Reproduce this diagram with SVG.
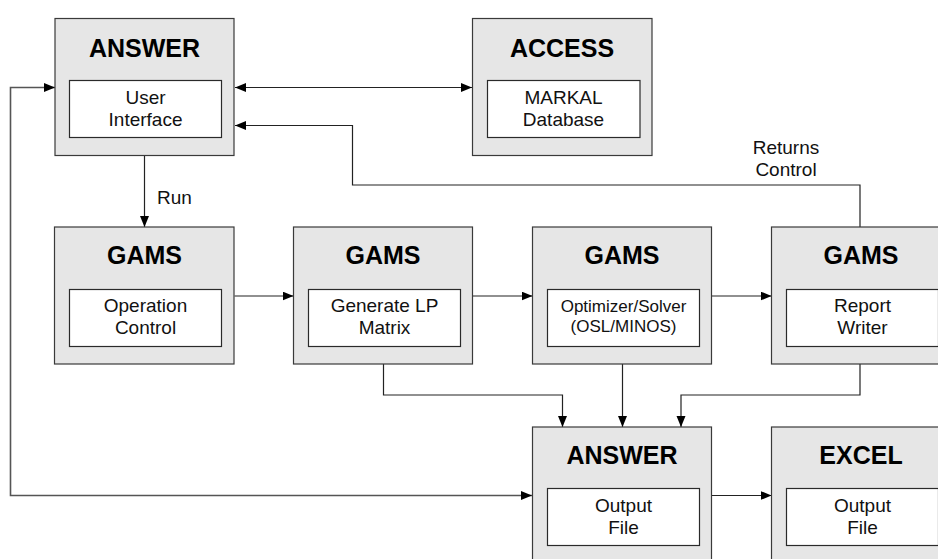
<svg xmlns="http://www.w3.org/2000/svg" width="938" height="559" viewBox="0 0 938 559">
<style>
.box{fill:#e6e6e6;stroke:#3a3a3a;stroke-width:1.2}
.inner{fill:#ffffff;stroke:#2a2a2a;stroke-width:1.2}
.title{font-family:"Liberation Sans",Arial,sans-serif;font-weight:bold;font-size:25px;fill:#000;text-anchor:middle}
.txt{font-family:"Liberation Sans",Arial,sans-serif;font-size:19px;fill:#111;text-anchor:middle}
.small{font-size:17px}
.conn{fill:none;stroke:#222;stroke-width:1.2}
.loop{fill:none;stroke:#555;stroke-width:1.6}
.lbl{font-family:"Liberation Sans",Arial,sans-serif;font-size:19px;fill:#111}
</style>
<defs>
<marker id="arr" markerUnits="userSpaceOnUse" markerWidth="12" markerHeight="10" refX="11" refY="4.5" orient="auto-start-reverse" viewBox="0 0 12 10">
<path d="M0,0 L11,4.5 L0,9 Z" fill="#000"/>
</marker>
</defs>
<rect width="938" height="559" fill="#fff"/>

<g id="connectors">
<path class="conn" d="M235,87.5 H472" marker-start="url(#arr)" marker-end="url(#arr)"/>
<path class="loop" d="M55,87.5 H10.5 V495.5 H532" marker-start="url(#arr)" marker-end="url(#arr)"/>
<path class="conn" d="M144.5,155.5 V227" marker-end="url(#arr)"/>
<path class="conn" d="M234.5,296 H293.5" marker-end="url(#arr)"/>
<path class="conn" d="M473,296 H532.5" marker-end="url(#arr)"/>
<path class="conn" d="M712,296 H771.5" marker-end="url(#arr)"/>
<path class="conn" d="M860,227 V185 H352.5 V125.5 H235" marker-end="url(#arr)"/>
<path class="conn" d="M383.5,364 V395 H562.5 V427" marker-end="url(#arr)"/>
<path class="conn" d="M622.5,364 V427" marker-end="url(#arr)"/>
<path class="conn" d="M860,364 V395 H681 V427" marker-end="url(#arr)"/>
<path class="conn" d="M712,495.5 H771.5" marker-end="url(#arr)"/>
<text class="lbl" x="157" y="204">Run</text>
<text class="lbl" x="786" y="154" text-anchor="middle">Returns</text>
<text class="lbl" x="786" y="176" text-anchor="middle">Control</text>
</g>

<g id="answer-ui">
<rect class="box" x="55" y="18.5" width="179" height="137"/>
<text class="title" x="144.5" y="56.5">ANSWER</text>
<rect class="inner" x="69.5" y="80.5" width="152" height="57"/>
<text class="txt" x="145.5" y="103.5">User</text>
<text class="txt" x="145.5" y="125.5">Interface</text>
</g>

<g id="access">
<rect class="box" x="472.5" y="18.5" width="179.5" height="137"/>
<text class="title" x="562" y="56.5">ACCESS</text>
<rect class="inner" x="487.5" y="80.5" width="152.5" height="57"/>
<text class="txt" x="563.5" y="103.5">MARKAL</text>
<text class="txt" x="563.5" y="125.5">Database</text>
</g>

<g id="gams-operation">
<rect class="box" x="54.5" y="227" width="179.5" height="137"/>
<text class="title" x="144.5" y="264">GAMS</text>
<rect class="inner" x="69.5" y="289.5" width="152" height="57"/>
<text class="txt" x="145.5" y="312">Operation</text>
<text class="txt" x="145.5" y="334">Control</text>
</g>

<g id="gams-generate">
<rect class="box" x="293.5" y="227" width="179" height="137"/>
<text class="title" x="383" y="264">GAMS</text>
<rect class="inner" x="308.5" y="289.5" width="152" height="57"/>
<text class="txt" x="384.5" y="312">Generate LP</text>
<text class="txt" x="384.5" y="334">Matrix</text>
</g>

<g id="gams-solver">
<rect class="box" x="532.5" y="227" width="179" height="137"/>
<text class="title" x="622" y="264">GAMS</text>
<rect class="inner" x="547.5" y="289.5" width="152" height="57"/>
<text class="txt small" x="623.5" y="312">Optimizer/Solver</text>
<text class="txt small" x="623.5" y="332">(OSL/MINOS)</text>
</g>

<g id="gams-report">
<rect class="box" x="771.5" y="227" width="179" height="137"/>
<text class="title" x="861" y="264">GAMS</text>
<rect class="inner" x="786.5" y="289.5" width="152" height="57"/>
<text class="txt" x="862.5" y="312">Report</text>
<text class="txt" x="862.5" y="334">Writer</text>
</g>

<g id="answer-output">
<rect class="box" x="532.5" y="427" width="179" height="150"/>
<text class="title" x="622" y="463.5">ANSWER</text>
<rect class="inner" x="547.5" y="488.5" width="152" height="57"/>
<text class="txt" x="623.5" y="511.5">Output</text>
<text class="txt" x="623.5" y="534">File</text>
</g>

<g id="excel-output">
<rect class="box" x="771.5" y="427" width="179" height="150"/>
<text class="title" x="861" y="463.5">EXCEL</text>
<rect class="inner" x="786.5" y="488.5" width="152" height="57"/>
<text class="txt" x="862.5" y="511.5">Output</text>
<text class="txt" x="862.5" y="534">File</text>
</g>
</svg>
